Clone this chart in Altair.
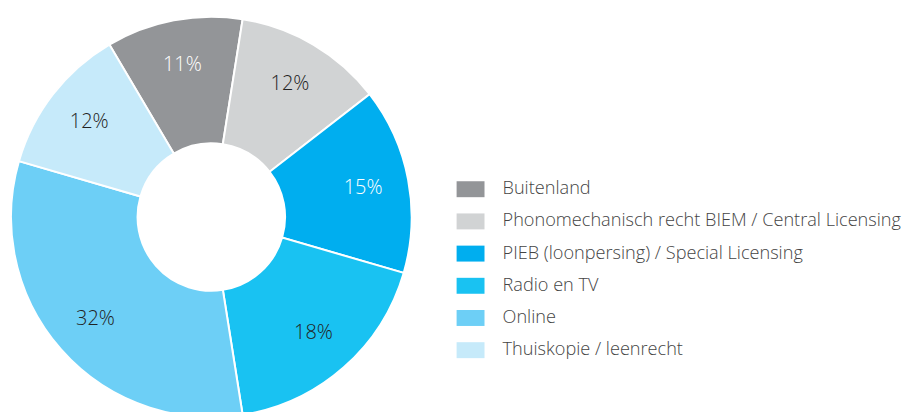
import altair as alt
import pandas as pd
import math

categories = ["Buitenland", "Phonomechanisch recht BIEM / Central Licensing",
              "PIEB (loonpersing) / Special Licensing", "Radio en TV", "Online",
              "Thuiskopie / leenrecht"]
values = [11, 12, 15, 18, 32, 12]
colors = ["#939598", "#d1d3d4", "#00aeef", "#19c2f2", "#6dcff6", "#c6eafa"]
white_labels = ["Buitenland", "PIEB (loonpersing) / Special Licensing"]

df = pd.DataFrame({"cat": categories, "val": values, "idx": list(range(len(values)))})
df["label"] = df["val"].astype(str) + "%"

start = math.radians(-30.6)
theta_scale = alt.Scale(range=[start, start + 2 * math.pi])
cx, cy = 204, 209
FONT = "Open Sans"

base = alt.Chart(df).encode(
    theta=alt.Theta("val:Q", stack=True, scale=theta_scale),
    order=alt.Order("idx:Q"),
    x=alt.value(cx), y=alt.value(cy),
)

arcs = base.mark_arc(outerRadius=201, innerRadius=74, stroke="white", strokeWidth=2).encode(
    color=alt.Color("cat:N", sort=categories,
                    scale=alt.Scale(domain=categories, range=colors),
                    legend=alt.Legend(
                        title=None, orient="none", legendX=455, legendY=172,
                        symbolType="M-1.75,-1L1.75,-1L1.75,1L-1.75,1Z",
                        symbolSize=256, symbolStrokeWidth=0,
                        labelFont=FONT, labelFontSize=18.2, labelFontWeight=300,
                        labelColor="#444444",
                        labelOffset=23, rowPadding=13.3, labelLimit=500,
                    ))
)

text = base.mark_text(radius=155, font=FONT, fontSize=20, fontWeight=300).encode(
    text="label:N",
    color=alt.condition(alt.FieldOneOfPredicate(field="cat", oneOf=white_labels),
                        alt.value("white"), alt.value("#222222")),
)

chart = (arcs + text).properties(
    width=900, height=430, padding=0, autosize=alt.AutoSizeParams(type="none")
).configure_view(stroke=None)

chart.save("out.html", embed_options={"renderer": "svg", "actions": False})
